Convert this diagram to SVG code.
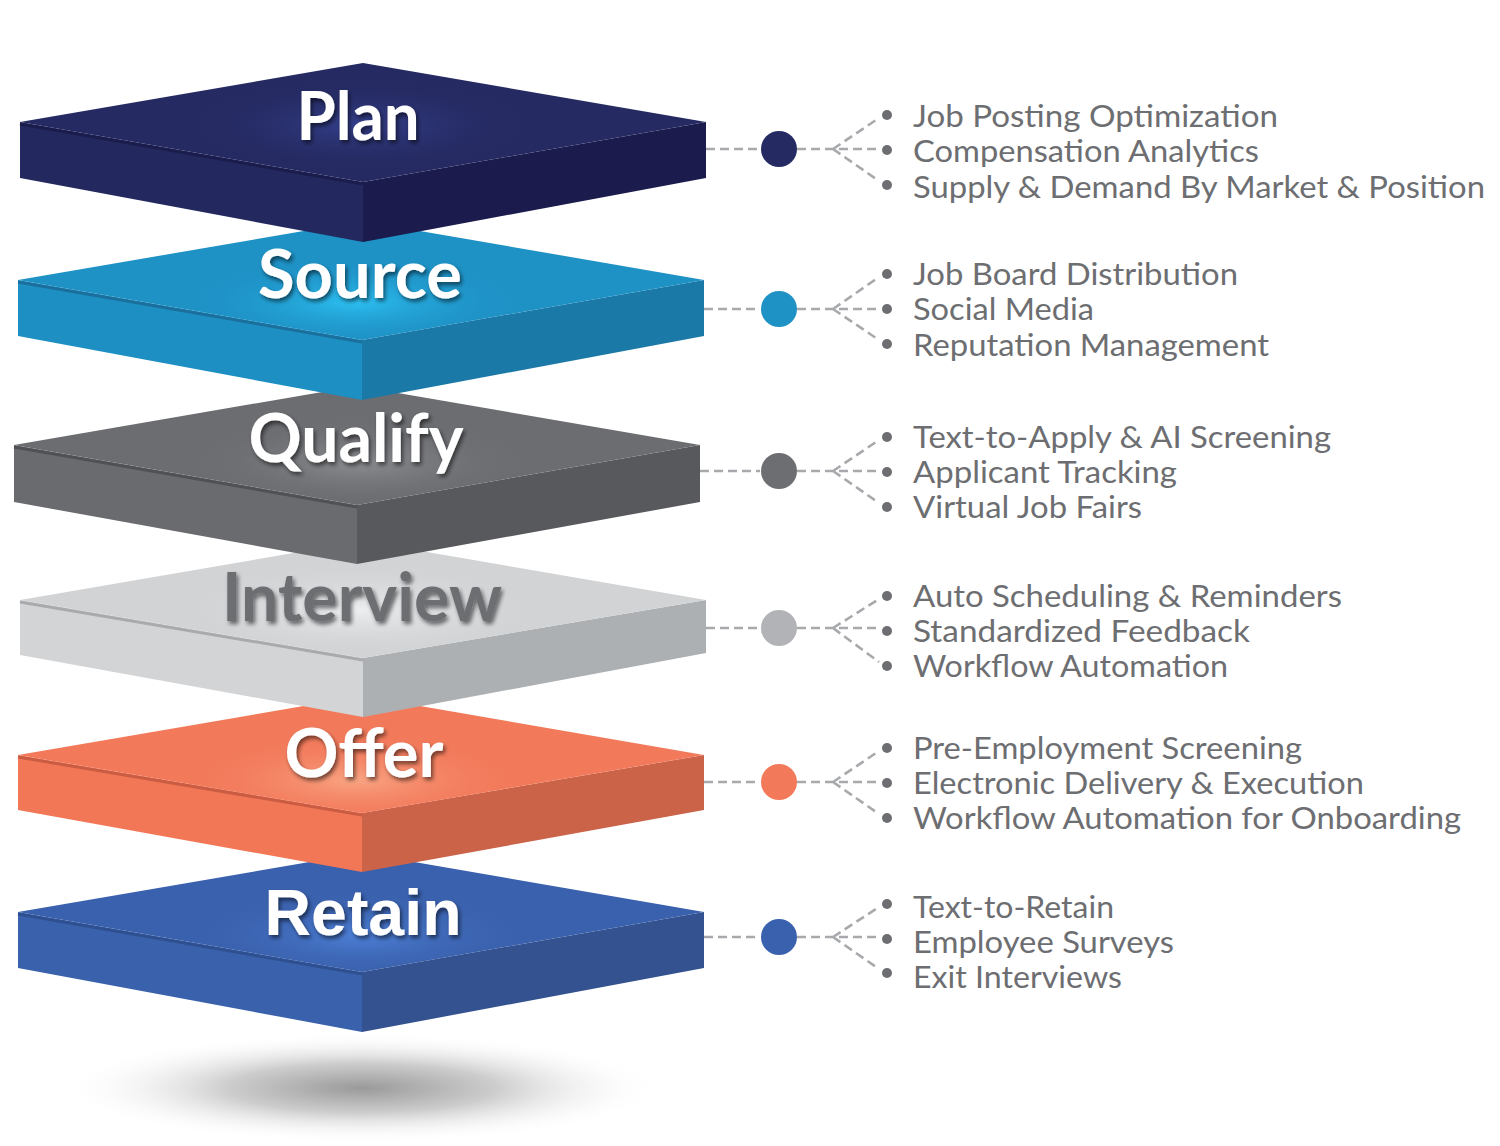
<svg xmlns="http://www.w3.org/2000/svg" width="1500" height="1146" viewBox="0 0 1500 1146">
<defs>
<style>
.lbl{font-family:Lato,"Open Sans","Liberation Sans",sans-serif;font-weight:700;font-size:66px;text-anchor:middle;fill:#ffffff;}
.lbl2{font-family:"Liberation Sans",Arial,sans-serif;font-weight:700;font-size:64px;text-anchor:middle;fill:#ffffff;}
.item{font-family:Lato,"Open Sans","Liberation Sans",sans-serif;font-size:30px;fill:#6d6e71;}
.dash{fill:none;stroke:#a7a9ac;stroke-width:2.6;stroke-dasharray:9 5;}
.dot{fill:#6d6e71;}
</style>
<filter id="ts" x="-20%" y="-30%" width="140%" height="170%">
<feGaussianBlur in="SourceAlpha" stdDeviation="2.2"/>
<feOffset dx="2" dy="3" result="b"/>
<feComponentTransfer><feFuncA type="linear" slope="0.55"/></feComponentTransfer>
<feMerge><feMergeNode/><feMergeNode in="SourceGraphic"/></feMerge>
</filter>
<clipPath id="cPlan"><polygon points="363,63 706,122 363,182 20,122"/></clipPath>
<clipPath id="cSource"><polygon points="362,221 704,280 362,340 18,280"/></clipPath>
<clipPath id="cQualify"><polygon points="357,386 700,445 357,505 14,445"/></clipPath>
<clipPath id="cInterview"><polygon points="363,541 706,600 363,658 20,600"/></clipPath>
<clipPath id="cOffer"><polygon points="362,696 704,755 362,813 18,755"/></clipPath>
<clipPath id="cRetain"><polygon points="362,853 704,912 362,972 18,912"/></clipPath>
<radialGradient id="gPlan" cx="0.5" cy="0.5" r="0.5"><stop offset="0" stop-color="#34408c"/><stop offset="1" stop-color="#252a62" stop-opacity="0"/></radialGradient>
<radialGradient id="gSource" cx="0.5" cy="0.5" r="0.5"><stop offset="0" stop-color="#2cc0f2"/><stop offset="1" stop-color="#1e91c5" stop-opacity="0"/></radialGradient>
<radialGradient id="gQualify" cx="0.5" cy="0.5" r="0.5"><stop offset="0" stop-color="#8d8e92"/><stop offset="1" stop-color="#6c6d71" stop-opacity="0"/></radialGradient>
<radialGradient id="gInterview" cx="0.5" cy="0.5" r="0.5"><stop offset="0" stop-color="#eceef0"/><stop offset="1" stop-color="#d1d3d5" stop-opacity="0"/></radialGradient>
<radialGradient id="gOffer" cx="0.5" cy="0.5" r="0.5"><stop offset="0" stop-color="#f9a583"/><stop offset="1" stop-color="#f27a5b" stop-opacity="0"/></radialGradient>
<radialGradient id="gRetain" cx="0.5" cy="0.5" r="0.5"><stop offset="0" stop-color="#4d80d8"/><stop offset="1" stop-color="#3a61ad" stop-opacity="0"/></radialGradient>
<radialGradient id="gShadow" cx="0.5" cy="0.5" r="0.5"><stop offset="0" stop-color="#9a9a9a"/><stop offset="0.45" stop-color="#cdcdcd"/><stop offset="1" stop-color="#ffffff" stop-opacity="0"/></radialGradient>
</defs>
<rect width="1500" height="1146" fill="#ffffff"/>

<ellipse cx="362" cy="1088" rx="300" ry="55" fill="url(#gShadow)"/>

<!-- Retain -->
<g id="retain">
<polygon points="18,912 362,972 362,1032 18,968" fill="#3a61ab"/>
<polygon points="362,972 704,912 704,968 362,1032" fill="#33528f"/>
<polygon points="362,853 704,912 362,972 18,912" fill="#3a61ad"/>
<ellipse cx="360" cy="935" rx="170" ry="45" fill="url(#gRetain)" clip-path="url(#cRetain)"/>
<line x1="18" y1="914" x2="362" y2="974" stroke="#2f5090" stroke-width="3"/>
<text class="lbl2" x="363" y="935" textLength="197" lengthAdjust="spacingAndGlyphs" filter="url(#ts)">Retain</text>
<circle cx="779" cy="937" r="18" fill="#3a61ad"/>
<circle class="dot" cx="887" cy="904" r="5"/><circle class="dot" cx="887" cy="939" r="5"/><circle class="dot" cx="887" cy="973" r="5"/>
<text class="item" x="913" y="918" textLength="201" lengthAdjust="spacingAndGlyphs">Text-to-Retain</text>
<text class="item" x="913" y="953" textLength="261" lengthAdjust="spacingAndGlyphs">Employee Surveys</text>
<text class="item" x="913" y="988" textLength="209" lengthAdjust="spacingAndGlyphs">Exit Interviews</text>
</g>

<!-- Offer -->
<g id="offer">
<polygon points="18,755 362,813 362,872 18,810" fill="#f27756"/>
<polygon points="362,813 704,755 704,810 362,872" fill="#cb6349"/>
<polygon points="362,696 704,755 362,813 18,755" fill="#f27a5b"/>
<ellipse cx="355" cy="780" rx="170" ry="45" fill="url(#gOffer)" clip-path="url(#cOffer)"/>
<line x1="18" y1="757" x2="362" y2="815" stroke="#c95c42" stroke-width="3"/>
<text class="lbl" x="364" y="777" textLength="159" lengthAdjust="spacingAndGlyphs" filter="url(#ts)">Offer</text>
<circle cx="779" cy="782" r="18" fill="#f27a5b"/>
<circle class="dot" cx="887" cy="748" r="5"/><circle class="dot" cx="887" cy="783" r="5"/><circle class="dot" cx="887" cy="818" r="5"/>
<text class="item" x="913" y="759" textLength="389" lengthAdjust="spacingAndGlyphs">Pre-Employment Screening</text>
<text class="item" x="913" y="794" textLength="451" lengthAdjust="spacingAndGlyphs">Electronic Delivery &amp; Execution</text>
<text class="item" x="913" y="829" textLength="548" lengthAdjust="spacingAndGlyphs">Workflow Automation for Onboarding</text>
</g>

<!-- Interview -->
<g id="interview">
<polygon points="20,600 363,658 363,717 20,655" fill="#d2d4d6"/>
<polygon points="363,658 706,600 706,653 363,717" fill="#adb0b3"/>
<polygon points="363,541 706,600 363,658 20,600" fill="#d1d3d5"/>
<ellipse cx="360" cy="610" rx="190" ry="48" fill="url(#gInterview)" clip-path="url(#cInterview)"/>
<line x1="20" y1="602" x2="363" y2="660" stroke="#a8aaad" stroke-width="3"/>
<text class="lbl" x="362" y="621" textLength="280" lengthAdjust="spacingAndGlyphs" filter="url(#ts)" style="fill:#6d6e71">Interview</text>
<circle cx="779" cy="628" r="18" fill="#b1b3b6"/>
<circle class="dot" cx="887" cy="596" r="5"/><circle class="dot" cx="887" cy="631" r="5"/><circle class="dot" cx="887" cy="666" r="5"/>
<text class="item" x="913" y="607" textLength="429" lengthAdjust="spacingAndGlyphs">Auto Scheduling &amp; Reminders</text>
<text class="item" x="913" y="642" textLength="337" lengthAdjust="spacingAndGlyphs">Standardized Feedback</text>
<text class="item" x="913" y="677" textLength="315" lengthAdjust="spacingAndGlyphs">Workflow Automation</text>
</g>

<!-- Qualify -->
<g id="qualify">
<polygon points="14,445 357,505 357,564 14,502" fill="#6a6b6f"/>
<polygon points="357,505 700,445 700,502 357,564" fill="#58595d"/>
<polygon points="357,386 700,445 357,505 14,445" fill="#6c6d71"/>
<ellipse cx="360" cy="462" rx="170" ry="45" fill="url(#gQualify)" clip-path="url(#cQualify)"/>
<line x1="14" y1="447" x2="357" y2="507" stroke="#505155" stroke-width="3"/>
<text class="lbl" x="356" y="462" textLength="215" lengthAdjust="spacingAndGlyphs" filter="url(#ts)">Qualify</text>
<circle cx="779" cy="471" r="18" fill="#6d6e71"/>
<circle class="dot" cx="887" cy="437" r="5"/><circle class="dot" cx="887" cy="472" r="5"/><circle class="dot" cx="887" cy="507" r="5"/>
<text class="item" x="913" y="448" textLength="418" lengthAdjust="spacingAndGlyphs">Text-to-Apply &amp; AI Screening</text>
<text class="item" x="913" y="483" textLength="264" lengthAdjust="spacingAndGlyphs">Applicant Tracking</text>
<text class="item" x="913" y="518" textLength="229" lengthAdjust="spacingAndGlyphs">Virtual Job Fairs</text>
</g>

<!-- Source -->
<g id="source">
<polygon points="18,280 362,340 362,400 18,336" fill="#1e8fc3"/>
<polygon points="362,340 704,280 704,336 362,400" fill="#1b79a8"/>
<polygon points="362,221 704,280 362,340 18,280" fill="#1e91c5"/>
<ellipse cx="355" cy="302" rx="170" ry="45" fill="url(#gSource)" clip-path="url(#cSource)"/>
<line x1="18" y1="282" x2="362" y2="342" stroke="#1a6f9c" stroke-width="3"/>
<text class="lbl" x="360" y="298" textLength="204" lengthAdjust="spacingAndGlyphs" filter="url(#ts)">Source</text>
<circle cx="779" cy="309" r="18" fill="#1e91c5"/>
<circle class="dot" cx="887" cy="274" r="5"/><circle class="dot" cx="887" cy="309" r="5"/><circle class="dot" cx="887" cy="344" r="5"/>
<text class="item" x="913" y="285" textLength="325" lengthAdjust="spacingAndGlyphs">Job Board Distribution</text>
<text class="item" x="913" y="320" textLength="181" lengthAdjust="spacingAndGlyphs">Social Media</text>
<text class="item" x="913" y="356" textLength="356" lengthAdjust="spacingAndGlyphs">Reputation Management</text>
</g>

<!-- Plan -->
<g id="plan">
<polygon points="20,122 363,182 363,242 20,178" fill="#23295f"/>
<polygon points="363,182 706,122 706,178 363,242" fill="#1b1b4d"/>
<polygon points="363,63 706,122 363,182 20,122" fill="#252a62"/>
<ellipse cx="360" cy="125" rx="170" ry="45" fill="url(#gPlan)" clip-path="url(#cPlan)"/>
<line x1="20" y1="124" x2="363" y2="184" stroke="#1a1c4c" stroke-width="3"/>
<text class="lbl" x="358" y="140" textLength="123" lengthAdjust="spacingAndGlyphs" filter="url(#ts)">Plan</text>
<circle cx="779" cy="149" r="18" fill="#252a62"/>
<circle class="dot" cx="887" cy="115" r="5"/><circle class="dot" cx="887" cy="150" r="5"/><circle class="dot" cx="887" cy="185" r="5"/>
<text class="item" x="913" y="127" textLength="365" lengthAdjust="spacingAndGlyphs">Job Posting Optimization</text>
<text class="item" x="913" y="162" textLength="346" lengthAdjust="spacingAndGlyphs">Compensation Analytics</text>
<text class="item" x="913" y="198" textLength="572" lengthAdjust="spacingAndGlyphs">Supply &amp; Demand By Market &amp; Position</text>
</g>

<g id="connectors">
<path class="dash" d="M706,149 H760 M797,149 H880 M833,149 L879,118 M833,149 L879,181"/>
<path class="dash" d="M704,309 H760 M797,309 H880 M833,309 L879,277 M833,309 L879,340"/>
<path class="dash" d="M700,471 H760 M797,471 H880 M833,471 L879,440 M833,471 L879,503"/>
<path class="dash" d="M706,628 H760 M797,628 H880 M833,628 L879,599 M833,628 L879,662"/>
<path class="dash" d="M704,782 H760 M797,782 H880 M833,782 L879,751 M833,782 L879,814"/>
<path class="dash" d="M704,937 H760 M797,937 H880 M833,937 L879,907 M833,937 L879,969"/>
</g>
</svg>
